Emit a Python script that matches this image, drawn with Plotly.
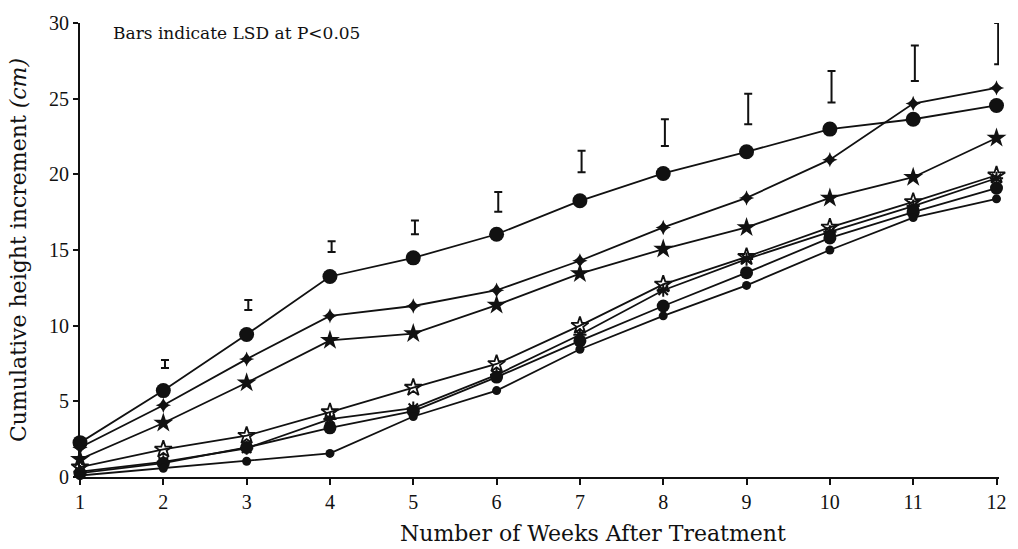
import plotly.graph_objects as go

# Weeks after treatment
weeks = [1, 2, 3, 4, 5, 6, 7, 8, 9, 10, 11, 12]

# Cumulative height increment (cm) for each treatment
series_circle_lg = [2.27, 5.71, 9.42, 13.25, 14.48, 16.04, 18.25, 20.06, 21.49, 22.99, 23.64, 24.55]
series_cross = [1.95, 4.74, 7.79, 10.65, 11.30, 12.34, 14.29, 16.49, 18.44, 20.97, 24.68, 25.71]
series_star = [1.17, 3.57, 6.23, 9.03, 9.48, 11.36, 13.44, 15.06, 16.49, 18.44, 19.81, 22.40]
series_star_open = [0.65, 1.82, 2.73, 4.29, 5.91, 7.47, 10.00, 12.73, 14.55, 16.49, 18.18, 19.94]
series_asterisk = [0.35, 1.00, 1.90, 3.83, 4.55, 6.75, 9.40, 12.34, 14.40, 16.20, 17.90, 19.74]
series_blob = [0.25, 0.91, 1.95, 3.25, 4.35, 6.60, 9.00, 11.30, 13.50, 15.80, 17.50, 19.09]
series_circle_sm = [0.10, 0.58, 1.04, 1.56, 4.00, 5.71, 8.44, 10.65, 12.66, 15.00, 17.14, 18.38]

# LSD (P<0.05) bars: lower and upper ends, weeks 2-12
lsd_weeks = [2, 3, 4, 5, 6, 7, 8, 9, 10, 11, 12]
lsd_low = [7.21, 11.04, 14.87, 16.04, 17.53, 20.13, 21.88, 23.31, 24.74, 26.17, 27.27]
lsd_high = [7.73, 11.69, 15.58, 16.95, 18.83, 21.56, 23.64, 25.32, 26.82, 28.51, 30.00]

TEXT_FONT = "DejaVu Serif"
TICK_FONT = "Liberation Serif"
BLACK = "#111111"

fig = go.Figure()

line_specs = [
    (series_circle_lg, dict(symbol="circle", size=15, color=BLACK)),
    (series_cross, dict(symbol="star-diamond", size=11, color=BLACK)),
    (series_star, dict(symbol="star", size=15, color=BLACK)),
    (series_star_open, dict(symbol="star-open", size=13, color=BLACK, line=dict(width=1.8, color=BLACK))),
    (series_asterisk, dict(symbol="asterisk-open", size=11, color=BLACK, line=dict(width=2, color=BLACK))),
    (series_blob, dict(symbol="circle", size=13, color=BLACK)),
    (series_circle_sm, dict(symbol="circle", size=9, color=BLACK)),
]

for values, marker in line_specs:
    fig.add_trace(go.Scatter(
        x=weeks, y=values, mode="lines+markers",
        line=dict(color=BLACK, width=1.8),
        marker=marker, showlegend=False, cliponaxis=False,
    ))

# LSD bars drawn as error bars around the midpoint of each interval
lsd_mid = [(lo + hi) / 2 for lo, hi in zip(lsd_low, lsd_high)]
lsd_half = [(hi - lo) / 2 for lo, hi in zip(lsd_low, lsd_high)]
fig.add_trace(go.Scatter(
    x=[w + 0.02 for w in lsd_weeks], y=lsd_mid, mode="markers",
    marker=dict(size=0.1, color=BLACK, opacity=0),
    error_y=dict(type="data", array=lsd_half, symmetric=True,
                 color=BLACK, thickness=2, width=4),
    showlegend=False, cliponaxis=False,
))

fig.add_annotation(
    x=0.034, y=1.005, xref="paper", yref="paper", xanchor="left", yanchor="top",
    text="Bars indicate LSD at P<0.05", showarrow=False,
    font=dict(family=TEXT_FONT, size=17, color=BLACK),
)

# x-axis title, set slightly right of the axis centre
fig.add_annotation(
    x=0.558, y=-0.125, xref="paper", yref="paper", xanchor="center", yanchor="middle",
    text="Number of Weeks After Treatment", showarrow=False,
    font=dict(family=TEXT_FONT, size=22, color=BLACK),
)

fig.update_layout(
    width=1018, height=549,
    margin=dict(l=80, r=14, t=15, b=72),
    paper_bgcolor="white", plot_bgcolor="white",
    font=dict(family=TICK_FONT, size=20, color=BLACK),
    xaxis=dict(
        range=[1, 12.03], tickmode="array", tickvals=weeks,
        showline=True, linecolor=BLACK, linewidth=2, showgrid=False, zeroline=False,
        ticks="outside", ticklen=6, tickwidth=2, tickcolor=BLACK,
        tickfont=dict(family=TICK_FONT, size=20),
    ),
    yaxis=dict(
        range=[0, 30], tickmode="array", tickvals=[0, 5, 10, 15, 20, 25, 30],
        showline=True, linecolor=BLACK, linewidth=2, showgrid=False, zeroline=False,
        ticks="outside", ticklen=5, tickwidth=2, tickcolor=BLACK,
        tickfont=dict(family=TICK_FONT, size=20),
        title=dict(text="Cumulative height increment <i>(cm)</i>", standoff=16,
                   font=dict(family=TEXT_FONT, size=22)),
    ),
)

fig.write_html("out.html")
